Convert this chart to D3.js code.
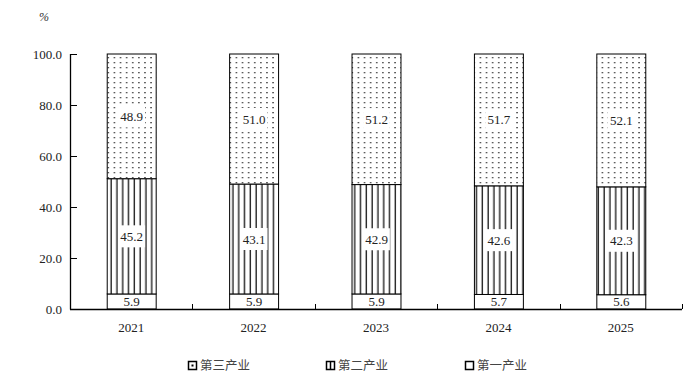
<!DOCTYPE html>
<html><head><meta charset="utf-8">
<script src="https://cdn.jsdelivr.net/npm/d3@7"></script>
<style>body{margin:0;background:#fff}svg{display:block}</style>
</head><body>
<svg id="c" width="688" height="388"></svg>
<script>
const years = ["2021","2022","2023","2024","2025"];
const primary = [5.9,5.9,5.9,5.7,5.6];
const secondary = [45.2,43.1,42.9,42.6,42.3];
const tertiary = [48.9,51.0,51.2,51.7,52.1];
const yTicks = [0,20,40,60,80,100];
const seriesNames = ["第三产业","第二产业","第一产业"];

const svg = d3.select("#c");
const serif = "'Liberation Serif','Times New Roman',serif";
const cjk = "'Noto Sans CJK SC',sans-serif";

const defs = svg.append("defs");
const pd = defs.append("pattern").attr("id","dots").attr("patternUnits","userSpaceOnUse")
  .attr("width",6.1).attr("height",5).attr("x",2).attr("y",1);
pd.append("rect").attr("width",6.1).attr("height",5).attr("fill","#fff");
pd.append("rect").attr("x",2).attr("y",1).attr("width",1.3).attr("height",1.3).attr("fill","#222");
const pl = defs.append("pattern").attr("id","vlines").attr("patternUnits","userSpaceOnUse")
  .attr("width",5.8).attr("height",10).attr("x",108);
pl.append("rect").attr("width",5.8).attr("height",10).attr("fill","#fff");
pl.append("rect").attr("x",2.5).attr("width",1.3).attr("height",10).attr("fill","#111");

const x = d3.scaleBand().domain(years).range([70,682]).paddingInner(0.6).paddingOuter(0.3);
const y = d3.scaleLinear().domain([0,100]).range([309,54]);

const data = years.map((yr,i)=>({yr, segs:[
  {v:primary[i], y0:0, fill:"#fff"},
  {v:secondary[i], y0:primary[i], fill:"url(#vlines)"},
  {v:tertiary[i], y0:primary[i]+secondary[i], fill:"url(#dots)"}
]}));

const g = svg.append("g");
data.forEach(d=>{
  d.segs.forEach(s=>{
    const top = Math.min(100, s.y0+s.v);
    g.append("rect").attr("x",x(d.yr)+0.5).attr("width",x.bandwidth())
      .attr("y",y(top)).attr("height",y(s.y0)-y(top))
      .attr("fill",s.fill).attr("stroke","#000").attr("stroke-width",1);
  });
  d.segs.forEach(s=>{
    const top = Math.min(100, s.y0+s.v);
    const cy = (y(s.y0)+y(top))/2;
    const cx = x(d.yr)+0.5+x.bandwidth()/2;
    const t = g.append("text").attr("x",cx).attr("y",cy+4.5).attr("text-anchor","middle")
      .attr("font-family",serif).attr("font-size",13).attr("fill","#222").text(s.v.toFixed(1));
    if (s.y0 > 0) {
      const bb = t.node().getBBox();
      g.insert("rect", () => t.node()).attr("x",bb.x-2).attr("y",cy-11).attr("width",bb.width+4)
        .attr("height",22).attr("fill","#fff");
    }
  });
});

// y axis
const ax = svg.append("g").attr("stroke","#000");
ax.append("line").attr("x1",70.5).attr("x2",70.5).attr("y1",y(100)).attr("y2",y(0)+0.5).attr("stroke-width",1.3);
yTicks.forEach(t=>{
  ax.append("line").attr("x1",70.5).attr("x2",77).attr("y1",Math.round(y(t))+0.5).attr("y2",Math.round(y(t))+0.5);
  svg.append("text").attr("x",62).attr("y",y(t)+4.5).attr("text-anchor","end")
    .attr("font-family",serif).attr("font-size",13).attr("fill","#222").text(t.toFixed(1));
});
// x axis
ax.append("line").attr("x1",70).attr("x2",682).attr("y1",y(0)+0.5).attr("y2",y(0)+0.5).attr("stroke-width",1.3);
d3.range(years.length+1).forEach(k=>{
  const px = Math.round(70 + k*x.step())+0.5;
  ax.append("line").attr("x1",px).attr("x2",px).attr("y1",y(0)).attr("y2",y(0)-5);
});
years.forEach(yr=>{
  svg.append("text").attr("x",x(yr)+x.bandwidth()/2).attr("y",332).attr("text-anchor","middle")
    .attr("font-family",serif).attr("font-size",13).attr("fill","#222").text(yr);
});
svg.append("text").attr("x",39).attr("y",21).attr("font-family",serif).attr("font-style","italic")
  .attr("font-size",12).attr("fill","#333").text("%");

// legend
const lx = [188,326,465];
seriesNames.forEach((n,i)=>{
  const lg = svg.append("g");
  lg.append("rect").attr("x",lx[i]+0.5).attr("y",361.5).attr("width",8).attr("height",8)
    .attr("fill","#fff").attr("stroke","#000").attr("stroke-width",1.5);
  if(i===0) lg.append("rect").attr("x",lx[i]+3.5).attr("y",364.5).attr("width",2).attr("height",2).attr("fill","#000");
  if(i===1){ lg.append("line").attr("x1",lx[i]+4.5).attr("x2",lx[i]+4.5).attr("y1",362).attr("y2",369).attr("stroke","#000").attr("stroke-width",1.5); }
  lg.append("text").attr("x",lx[i]+12).attr("y",370).attr("font-family",cjk).attr("font-size",12.5)
    .attr("fill","#444").text(n);
});
</script>
</body></html>
